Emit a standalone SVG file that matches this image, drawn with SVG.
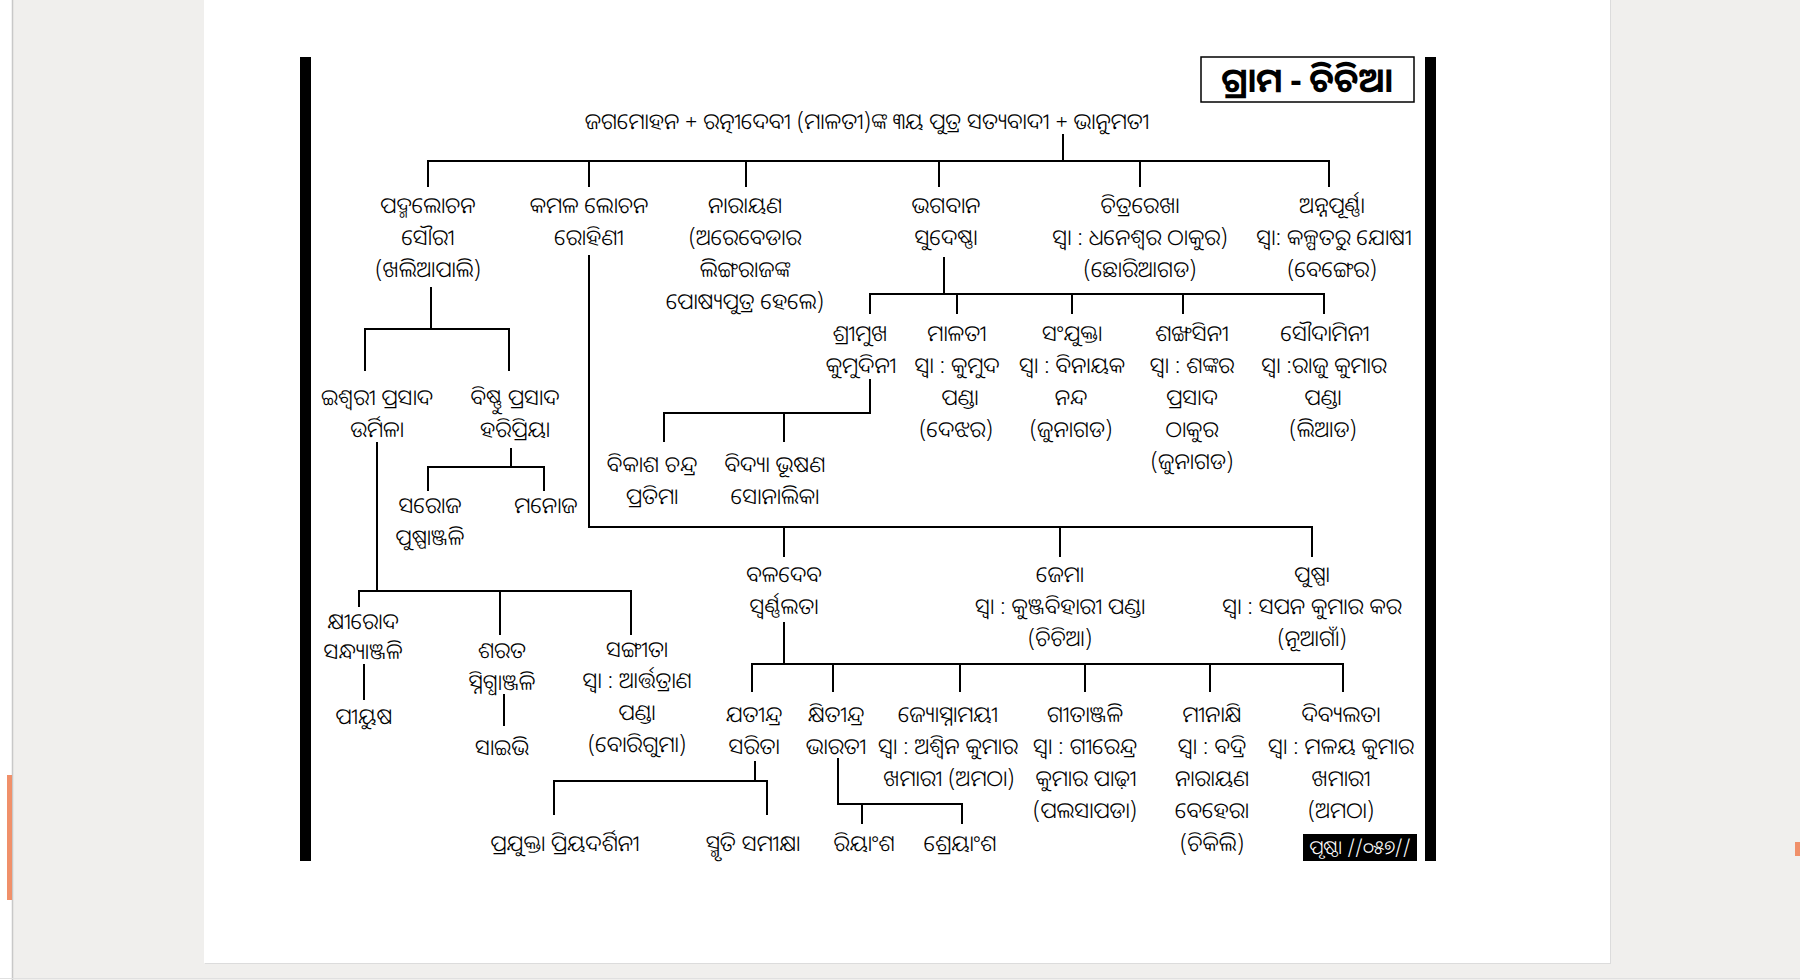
<svg xmlns="http://www.w3.org/2000/svg" width="1800" height="980" viewBox="0 0 1800 980">
<style>
.t{font-family:'Noto Sans Oriya','Noto Sans Odia','Lohit Odia','Noto Sans',sans-serif;font-size:22px;font-weight:300;fill:#000;text-anchor:middle}
.ln{stroke:#000;stroke-width:2;fill:none}
</style>
<rect x="0" y="0" width="1800" height="980" fill="#f0efed"/>
<rect x="0" y="0" width="12" height="980" fill="#ffffff"/>
<line x1="12.5" y1="0" x2="12.5" y2="980" stroke="#c8c8c8" stroke-width="1.5"/>
<rect x="7" y="775" width="5" height="125" fill="#f0906a"/>
<rect x="1795" y="842" width="5" height="14" fill="#f0906a"/>
<rect x="205" y="0" width="1406" height="964" fill="#dcdcdc"/>
<rect x="204" y="0" width="1406" height="963" fill="#ffffff"/>
<line x1="0" y1="978.5" x2="1800" y2="978.5" stroke="#e0e0e0"/>
<rect x="300" y="57" width="11" height="804" fill="#000"/>
<rect x="1425" y="57" width="11" height="804" fill="#000"/>
<g id="title">
<rect x="1201" y="57" width="213" height="45" fill="#fff" stroke="#000" stroke-width="1.5"/>
<text class="t" x="1307" y="92" style="font-size:34px;font-weight:bold">ଗ୍ରାମ - ଚିଚିଆ</text>
</g>
<g id="connectors">
<path class="ln" d="M1063 134V161M428 187V161H1329V187M589 161V187M746 161V187M939 161V187M1140 161V187"/>
<path class="ln" d="M431 287V329M365 371V329H509V371"/>
<path class="ln" d="M511 448V467M428 491V467H544V491"/>
<path class="ln" d="M377 442V591M359 607V591H631V635M500 591V635"/>
<path class="ln" d="M364 664V700M504 694V726"/>
<path class="ln" d="M589 255V527H1312V557M784 527V557M1060 527V557"/>
<path class="ln" d="M944 257V294M870 314V294H1324V314M957 294V314M1072 294V314M1183 294V314"/>
<path class="ln" d="M870 379V413H664V442M784 413V442"/>
<path class="ln" d="M784 622V664M752 692V664H1343V692M833 664V692M960 664V692M1085 664V692M1210 664V692"/>
<path class="ln" d="M755 761V781M554 815V781H767V815"/>
<path class="ln" d="M838 758V804H962V824M862 804V824"/>
</g>
<g id="root"><text class="t" x="867" y="129">ଜଗମୋହନ + ରତ୍ନୀଦେବୀ (ମାଳତୀ)ଙ୍କ ୩ୟ ପୁତ୍ର ସତ୍ୟବାଦୀ + ଭାନୁମତୀ</text></g>
<g id="padma"><text class="t"><tspan x="428" y="213">ପଦ୍ମଲୋଚନ</tspan><tspan x="428" y="245">ସୌରୀ</tspan><tspan x="428" y="277">(ଖଲିଆପାଲି)</tspan></text></g>
<g id="kamala"><text class="t"><tspan x="589" y="213">କମଳ ଲୋଚନ</tspan><tspan x="589" y="245">ରୋହିଣୀ</tspan></text></g>
<g id="narayan"><text class="t"><tspan x="745" y="213">ନାରାୟଣ</tspan><tspan x="745" y="245">(ଅରେବେଡାର</tspan><tspan x="745" y="277">ଲିଙ୍ଗରାଜଙ୍କ</tspan><tspan x="745" y="309">ପୋଷ୍ୟପୁତ୍ର ହେଲେ)</tspan></text></g>
<g id="bhagaban"><text class="t"><tspan x="946" y="213">ଭଗବାନ</tspan><tspan x="946" y="245">ସୁଦେଷ୍ଣା</tspan></text></g>
<g id="chitrarekha"><text class="t"><tspan x="1140" y="213">ଚିତ୍ରରେଖା</tspan><tspan x="1140" y="245">ସ୍ୱା : ଧନେଶ୍ୱର ଠାକୁର)</tspan><tspan x="1140" y="277">(ଛୋରିଆଗଡ)</tspan></text></g>
<g id="annapurna"><text class="t"><tspan x="1332" y="213">ଅନ୍ନପୂର୍ଣ୍ଣା</tspan><tspan x="1334" y="245">ସ୍ୱା: କଳ୍ପତରୁ ଯୋଷୀ</tspan><tspan x="1332" y="277">(ବେଙ୍ଗେର)</tspan></text></g>
<g id="isvari"><text class="t"><tspan x="377" y="405">ଇଶ୍ୱରୀ ପ୍ରସାଦ</tspan><tspan x="377" y="437">ଉର୍ମିଳା</tspan></text></g>
<g id="bishnu"><text class="t"><tspan x="515" y="405">ବିଷ୍ଣୁ ପ୍ରସାଦ</tspan><tspan x="515" y="437">ହରିପ୍ରିୟା</tspan></text></g>
<g id="saroj"><text class="t"><tspan x="430" y="513">ସରୋଜ</tspan><tspan x="430" y="545">ପୁଷ୍ପାଞ୍ଜଳି</tspan></text></g>
<g id="manoj"><text class="t" x="546" y="513">ମନୋଜ</text></g>
<g id="shrimukh"><text class="t"><tspan x="860" y="341">ଶ୍ରୀମୁଖ</tspan><tspan x="861" y="373">କୁମୁଦିନୀ</tspan></text></g>
<g id="malati"><text class="t"><tspan x="957" y="341">ମାଳତୀ</tspan><tspan x="957" y="373">ସ୍ୱା : କୁମୁଦ</tspan><tspan x="960" y="405">ପଣ୍ଡା</tspan><tspan x="956" y="437">(ଦେଝର)</tspan></text></g>
<g id="sanjukta"><text class="t"><tspan x="1072" y="341">ସଂଯୁକ୍ତା</tspan><tspan x="1072" y="373">ସ୍ୱା : ବିନାୟକ</tspan><tspan x="1071" y="405">ନନ୍ଦ</tspan><tspan x="1071" y="437">(ଜୁନାଗଡ)</tspan></text></g>
<g id="shankhasini"><text class="t"><tspan x="1192" y="341">ଶଙ୍ଖସିନୀ</tspan><tspan x="1192" y="373">ସ୍ୱା : ଶଙ୍କର</tspan><tspan x="1192" y="405">ପ୍ରସାଦ</tspan><tspan x="1192" y="437">ଠାକୁର</tspan><tspan x="1192" y="469">(ଜୁନାଗଡ)</tspan></text></g>
<g id="soudamini"><text class="t"><tspan x="1325" y="341">ସୌଦାମିନୀ</tspan><tspan x="1324" y="373">ସ୍ୱା :ରାଜୁ କୁମାର</tspan><tspan x="1323" y="405">ପଣ୍ଡା</tspan><tspan x="1323" y="437">(ଲିଆଡ)</tspan></text></g>
<g id="bikash"><text class="t"><tspan x="652" y="472">ବିକାଶ ଚନ୍ଦ୍ର</tspan><tspan x="652" y="504">ପ୍ରତିମା</tspan></text></g>
<g id="bidya"><text class="t"><tspan x="775" y="472">ବିଦ୍ୟା ଭୂଷଣ</tspan><tspan x="775" y="504">ସୋନାଲିକା</tspan></text></g>
<g id="baladeb"><text class="t"><tspan x="784" y="582">ବଳଦେବ</tspan><tspan x="784" y="614">ସ୍ୱର୍ଣ୍ଣଲତା</tspan></text></g>
<g id="jema"><text class="t"><tspan x="1060" y="582">ଜେମା</tspan><tspan x="1060" y="614">ସ୍ୱା : କୁଞ୍ଜବିହାରୀ ପଣ୍ଡା</tspan><tspan x="1060" y="646">(ଚିଚିଆ)</tspan></text></g>
<g id="puspa"><text class="t"><tspan x="1312" y="582">ପୁଷ୍ପା</tspan><tspan x="1312" y="614">ସ୍ୱା : ସପନ କୁମାର କର</tspan><tspan x="1312" y="646">(ନୂଆଗାଁ)</tspan></text></g>
<g id="kshirod"><text class="t"><tspan x="363" y="629">କ୍ଷୀରୋଦ</tspan><tspan x="363" y="659">ସନ୍ଧ୍ୟାଞ୍ଜଳି</tspan></text></g>
<g id="piyush"><text class="t" x="364" y="724">ପୀୟୁଷ</text></g>
<g id="sarat"><text class="t"><tspan x="502" y="658">ଶରତ</tspan><tspan x="502" y="690">ସ୍ନିଗ୍ଧାଞ୍ଜଳି</tspan></text></g>
<g id="saibhi"><text class="t" x="502" y="755">ସାଇଭି</text></g>
<g id="sangita"><text class="t"><tspan x="637" y="657">ସଙ୍ଗୀତା</tspan><tspan x="637" y="688">ସ୍ୱା : ଆର୍ତ୍ତତ୍ରାଣ</tspan><tspan x="637" y="720">ପଣ୍ଡା</tspan><tspan x="637" y="752">(ବୋରିଗୁମା)</tspan></text></g>
<g id="jatindra"><text class="t"><tspan x="754" y="722">ଯତୀନ୍ଦ୍ର</tspan><tspan x="754" y="754">ସରିତା</tspan></text></g>
<g id="kshitindra"><text class="t"><tspan x="836" y="722">କ୍ଷିତୀନ୍ଦ୍ର</tspan><tspan x="836" y="754">ଭାରତୀ</tspan></text></g>
<g id="jyotsna"><text class="t"><tspan x="948" y="722">ଜ୍ୟୋସ୍ନାମୟୀ</tspan><tspan x="948" y="754">ସ୍ୱା : ଅଶ୍ୱିନ କୁମାର</tspan><tspan x="949" y="786">ଖମାରୀ (ଅମଠା)</tspan></text></g>
<g id="gitanjali"><text class="t"><tspan x="1085" y="722">ଗୀତାଞ୍ଜଳି</tspan><tspan x="1085" y="754">ସ୍ୱା : ଗୀରେନ୍ଦ୍ର</tspan><tspan x="1086" y="786">କୁମାର ପାଢ଼ୀ</tspan><tspan x="1085" y="818">(ପଲସାପଡା)</tspan></text></g>
<g id="minakshi"><text class="t"><tspan x="1212" y="722">ମୀନାକ୍ଷି</tspan><tspan x="1212" y="754">ସ୍ୱା : ବଦ୍ରି</tspan><tspan x="1212" y="786">ନାରାୟଣ</tspan><tspan x="1212" y="818">ବେହେରା</tspan><tspan x="1212" y="851">(ଚିକିଲି)</tspan></text></g>
<g id="dibyalata"><text class="t"><tspan x="1341" y="722">ଦିବ୍ୟଲତା</tspan><tspan x="1341" y="754">ସ୍ୱା : ମଳୟ କୁମାର</tspan><tspan x="1341" y="786">ଖମାରୀ</tspan><tspan x="1341" y="818">(ଅମଠା)</tspan></text></g>
<g id="prajukta"><text class="t" x="565" y="851">ପ୍ରଯୁକ୍ତା ପ୍ରିୟଦର୍ଶିନୀ</text></g>
<g id="smruti"><text class="t" x="753" y="851">ସ୍ମୃତି ସମୀକ୍ଷା</text></g>
<g id="riyansh"><text class="t" x="864" y="851">ରିୟାଂଶ</text></g>
<g id="shreyansh"><text class="t" x="960" y="851">ଶ୍ରେୟାଂଶ</text></g>
<g id="pagenum">
<rect x="1303" y="834" width="114" height="27" fill="#000"/>
<text class="t" x="1360" y="854" style="fill:#fff;font-size:19px">ପୃଷ୍ଠା //୦୫୭//</text>
</g>
</svg>
